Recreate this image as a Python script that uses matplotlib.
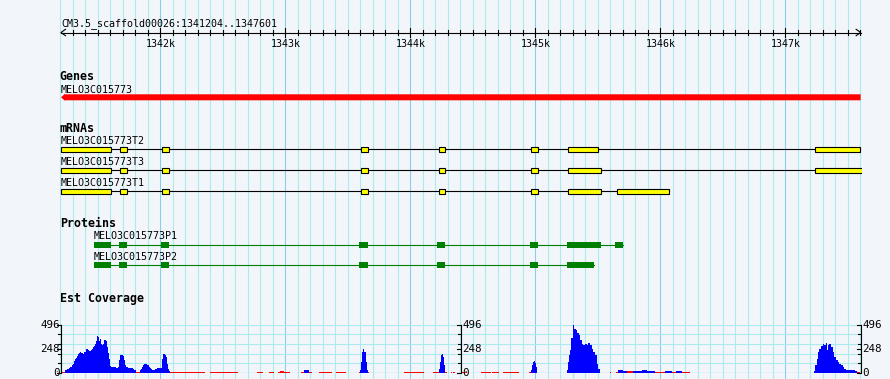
import matplotlib
matplotlib.use('Agg')
import matplotlib.pyplot as plt
import numpy as np
from matplotlib.patches import Rectangle, Polygon

# region shown
region_name = 'CM3.5_scaffold00026'
region_start = 1341204
region_end = 1347601
ruler_ticks = [1342000, 1343000, 1344000, 1345000, 1346000, 1347000]
ruler_labels = ['1342k', '1343k', '1344k', '1345k', '1346k', '1347k']

# gene
gene_name = 'MELO3C015773'

# mRNAs (exons, bp)
mrna_names = ['MELO3C015773T2', 'MELO3C015773T3', 'MELO3C015773T1']
exons_t2 = [(1341204, 1341604), (1341676, 1341732), (1342012, 1342068), (1343604, 1343660),
            (1344228, 1344276), (1344964, 1345020), (1345260, 1345500), (1347236, 1347598)]
exons_t3 = [(1341204, 1341604), (1341676, 1341732), (1342012, 1342068), (1343604, 1343660),
            (1344228, 1344276), (1344964, 1345020), (1345260, 1345524), (1347236, 1347700)]
exons_t1 = [(1341204, 1341604), (1341676, 1341732), (1342012, 1342068), (1343604, 1343660),
            (1344228, 1344276), (1344964, 1345020), (1345260, 1345524), (1345652, 1346068)]

# proteins (CDS, bp)
protein_names = ['MELO3C015773P1', 'MELO3C015773P2']
cds_p1 = [(1341468, 1341604), (1341668, 1341732), (1342004, 1342068), (1343588, 1343660),
          (1344212, 1344276), (1344956, 1345020), (1345252, 1345524), (1345636, 1345700)]
cds_p2 = [(1341468, 1341604), (1341668, 1341732), (1342004, 1342068), (1343588, 1343660),
          (1344212, 1344276), (1344956, 1345020), (1345252, 1345468)]

# Est coverage : value holds from cov_pos[i] up to cov_pos[i+1]
cov_pos = [1341204, 1341236, 1341252, 1341268, 1341280, 1341292, 1341300, 1341308, 1341316, 1341324,
           1341332, 1341340, 1341348, 1341356, 1341368, 1341380, 1341392, 1341400, 1341408, 1341420,
           1341432, 1341444, 1341452, 1341460, 1341468, 1341476, 1341484, 1341492, 1341500, 1341508,
           1341516, 1341524, 1341532, 1341540, 1341548, 1341556, 1341564, 1341572, 1341580, 1341588,
           1341596, 1341608, 1341628, 1341644, 1341660, 1341670, 1341678, 1341700, 1341710, 1341716,
           1341726, 1341740, 1341764, 1341780, 1341792, 1341804, 1341836, 1341844, 1341852, 1341860,
           1341872, 1341888, 1341896, 1341908, 1341916, 1341928, 1341936, 1341948, 1341956, 1341972,
           1342004, 1342012, 1342024, 1342036, 1342048, 1342056, 1342064, 1342070, 1342076, 1342356,
           1342396, 1342620, 1342772, 1342820, 1342868, 1342908, 1342940, 1342956, 1342988, 1343036,
           1343124, 1343148, 1343188, 1343212, 1343268, 1343372, 1343404, 1343484, 1343588, 1343596,
           1343604, 1343614, 1343622, 1343630, 1343642, 1343650, 1343660, 1343668, 1343948, 1344108,
           1344180, 1344228, 1344236, 1344244, 1344252, 1344260, 1344268, 1344276, 1344292, 1344324,
           1344332, 1344340, 1344356, 1344410, 1344450, 1344564, 1344644, 1344652, 1344708, 1344740,
           1344868, 1344948, 1344964, 1344972, 1344980, 1344988, 1344998, 1345006, 1345014, 1345252,
           1345260, 1345270, 1345276, 1345286, 1345298, 1345302, 1345310, 1345324, 1345334, 1345346,
           1345356, 1345370, 1345382, 1345396, 1345410, 1345422, 1345436, 1345450, 1345462, 1345476,
           1345490, 1345502, 1345516, 1345596, 1345604, 1345644, 1345662, 1345676, 1345702, 1345730,
           1345782, 1345850, 1345890, 1345956, 1346036, 1346092, 1346124, 1346170, 1346236, 1347228,
           1347238, 1347250, 1347260, 1347270, 1347284, 1347298, 1347310, 1347322, 1347330, 1347338,
           1347350, 1347364, 1347378, 1347390, 1347404, 1347418, 1347430, 1347444, 1347458, 1347470,
           1347484, 1347556, 1347570, 1347596]
cov_val = [15, 30, 38, 50, 62, 80, 96, 120, 140, 154,
           175, 190, 202, 212, 205, 199, 210, 219, 243, 233,
           223, 235, 250, 265, 277, 300, 325, 380, 370, 325,
           346, 300, 284, 301, 342, 340, 332, 267, 200, 147,
           68, 62, 62, 55, 62, 130, 181, 175, 130, 79,
           62, 55, 55, 45, 27, 15, 30, 45, 62, 79,
           89, 89, 79, 62, 51, 38, 27, 30, 38, 51,
           51, 147, 195, 180, 164, 96, 40, 25, 15, 0,
           15, 0, 15, 0, 15, 0, 15, 20, 15, 0,
           15, 30, 15, 0, 15, 0, 15, 0, 15, 30,
           113, 216, 243, 216, 113, 27, 15, 0, 15, 0,
           15, 45, 113, 188, 199, 164, 79, 15, 0, 15,
           0, 15, 0, 15, 0, 15, 0, 15, 0, 15,
           0, 15, 27, 79, 113, 120, 106, 62, 0, 30,
           113, 180, 233, 353, 438, 496, 455, 438, 414, 387,
           335, 301, 291, 301, 291, 311, 284, 250, 216, 181,
           96, 45, 0, 15, 0, 15, 27, 30, 22, 18,
           25, 34, 25, 15, 22, 15, 22, 15, 0, 25,
           79, 147, 216, 250, 277, 301, 284, 308, 233, 284,
           294, 267, 216, 164, 130, 113, 96, 79, 62, 45,
           27, 22, 15, 0]
cov_max = 496

bg = '#f2f5fa'
grid_minor = '#a8ecf0'
grid_major = '#87ceeb'
mono = 'DejaVu Sans Mono'

W, H = 890, 379
x0 = 1340716          # bp at pixel 0
bp_px = 8             # bp per pixel

fig = plt.figure(figsize=(W / 100, H / 100), dpi=100)
fig.patch.set_facecolor(bg)
ax = fig.add_axes([0, 0, 1, 1])
ax.set_xlim(x0, x0 + bp_px * W)
ax.set_ylim(H, 0)
ax.axis('off')

# vertical grid
for g in range(1341200, region_end + 1, 100):
    c = grid_major if g % 1000 == 0 else grid_minor
    ax.plot([g, g], [0, H], color=c, lw=0.75, zorder=0)

# ruler
ax.text(region_start, 25.7, f'{region_name}:{region_start}..{region_end}',
        family=mono, fontsize=7.2, va='baseline', ha='left')
ax.plot([region_start, region_end], [32.5, 32.5], color='black', lw=0.8)
ax.plot([region_start + 36, region_start, region_start + 36], [29.3, 32.5, 35.7], color='black', lw=0.8)
ax.plot([region_end - 36, region_end, region_end - 36], [29.3, 32.5, 35.7], color='black', lw=0.8)
for t in range(1341300, region_end, 100):
    if t % 1000 == 0:
        ax.plot([t, t], [27.5, 37], color='black', lw=0.8)
    else:
        ax.plot([t, t], [29.5, 35], color='black', lw=0.8)
for t, lab in zip(ruler_ticks, ruler_labels):
    ax.text(t, 46.7, lab, family=mono, fontsize=7.2, ha='center', va='baseline')

clip = Rectangle((region_start - 16, 0), region_end - region_start + 28, H, transform=ax.transData)

# section titles
for txt, yb in [('Genes', 80), ('mRNAs', 132.3), ('Proteins', 227.3), ('Est Coverage', 301.7)]:
    ax.text(region_start - 10, yb, txt, family=mono, fontweight='bold', fontsize=8.4,
            va='baseline', ha='left')

# gene
ax.text(region_start, 92.7, gene_name, family=mono, fontsize=7.2, va='baseline')
gy = 97.3
gene = Polygon([(region_start, gy), (region_start + 32, gy - 3.6), (region_start + 32, gy - 3),
                (region_end, gy - 3), (region_end, gy + 3), (region_start + 32, gy + 3),
                (region_start + 32, gy + 3.6)], closed=True, facecolor='#ff0000',
               edgecolor='none', zorder=3)
ax.add_patch(gene)

# mRNAs
for name, exons, y in zip(mrna_names, [exons_t2, exons_t3, exons_t1], [149.3, 170.3, 191.3]):
    ax.text(exons[0][0], y - 5.3, name, family=mono, fontsize=7.2, va='baseline')
    ax.plot([exons[0][0], min(exons[-1][1], region_end)], [y, y], color='black', lw=0.8, zorder=3)
    for s, e in exons:
        r = Rectangle((s, y - 2.5), e - s, 5, facecolor='#ffff00', edgecolor='black',
                      lw=0.8, zorder=4)
        ax.add_patch(r)
        r.set_clip_path(clip)

# proteins
for name, cds, y in zip(protein_names, [cds_p1, cds_p2], [244.7, 265.3]):
    ax.text(cds[0][0], y - 5.4, name, family=mono, fontsize=7.2, va='baseline')
    ax.plot([cds[0][0], cds[-1][1]], [y, y], color='#008000', lw=0.8, zorder=3)
    for s, e in cds:
        ax.add_patch(Rectangle((s, y - 3), e - s, 6, facecolor='#008000',
                               edgecolor='none', zorder=4))

# Est coverage
cov_bottom = 373.0
cov_top = 324.5
axc = fig.add_axes([0, (H - cov_bottom) / H, 1, (cov_bottom - cov_top) / H])
axc.set_xlim(x0, x0 + bp_px * W)
axc.set_ylim(0, cov_max)
axc.axis('off')
axc.patch.set_alpha(0)

grid_vals = [cov_max * k / 5 for k in range(1, 6)]
axc.hlines(grid_vals, region_start, region_end, color=grid_minor, lw=0.75, zorder=0)
axc.hlines([0], region_start, region_end, color=grid_major, lw=0.9, zorder=0)

pos = np.array(cov_pos)
val = np.array(cov_val)
wid = np.diff(np.append(pos, region_end))
cols = ['#0000ff' if v > 20 else '#ff0000' for v in val]
axc.bar(pos, val, width=wid, align='edge', color=cols, linewidth=0,
        antialiased=False, zorder=2)

mid = (region_start + region_end) / 2
for xa, side in [(region_start, 'left'), (mid, 'right'), (region_end, 'right')]:
    axc.plot([xa, xa], [0, cov_max], color='black', lw=0.8, clip_on=False, zorder=5)
    for v in grid_vals[:-1] + [0, cov_max / 2, cov_max]:
        tl = 32 if v in (0, cov_max / 2, cov_max) else 20
        axc.plot([xa - tl, xa], [v, v], color='black', lw=0.8, clip_on=False, zorder=5)
    for v, lab in [(cov_max, '496'), (cov_max / 2, '248'), (0, '0')]:
        if side == 'left':
            axc.text(xa - 8, v, lab, family=mono, fontsize=7.8, ha='right',
                     va='center', clip_on=False)
        else:
            axc.text(xa + 14, v, lab, family=mono, fontsize=7.8, ha='left',
                     va='center', clip_on=False)

fig.savefig('out.png', dpi=100, facecolor=bg)
